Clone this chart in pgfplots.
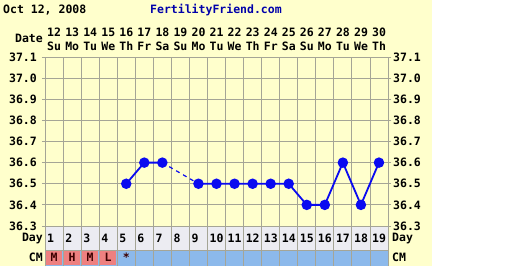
\documentclass[border=0pt]{standalone}
\usepackage{fontspec}
\setmainfont{DejaVu Sans Mono}
\usepackage{pgfplots}
\pgfplotsset{compat=1.18}
\definecolor{bgY}{RGB}{255,255,204}
\definecolor{gridC}{RGB}{165,165,150}
\definecolor{dayRow}{RGB}{236,236,242}
\definecolor{cmBlue}{RGB}{140,185,235}
\definecolor{cmRed}{RGB}{238,128,128}
\definecolor{ptBlue}{RGB}{10,10,240}
\definecolor{ffBlue}{RGB}{0,0,170}
\definecolor{cmTxt}{RGB}{60,0,0}
\newcommand{\pf}{\fontsize{11.5}{13}\selectfont\bfseries}
\begin{document}
\begin{tikzpicture}[x=1pt,y=1pt,font=\pf]
\useasboundingbox (0,0) rectangle (512,266);
\fill[white] (0,0) rectangle (512,266);
\fill[bgY] (0,0) rectangle (432,266);
% bottom rows
\fill[dayRow] (45,16) rectangle (388,39);
\fill[cmBlue] (45,0) rectangle (388,16);
\foreach \i in {1,...,4}{
  \fill[cmRed] ({45+(\i-1)*18.0526+1},1) rectangle ({45+\i*18.0526-1},15);
}
\foreach \i in {0,...,19}{
  \draw[gridC, line width=0.8pt] ({45+\i*18.0526},0) -- ({45+\i*18.0526},39);
}
\draw[gridC, line width=0.8pt] (45,16) -- (388,16);
\foreach \i in {1,...,19}{
  \node[anchor=west, inner sep=0pt] at ({45+(\i-1)*18.0526+2},28) {\i};
}
\foreach \c [count=\i] in {M,H,M,L,*}{
  \node[anchor=center, inner sep=0pt, text=cmTxt] at ({45+(\i-0.5)*18.0526},8.5) {\c};
}
\node[anchor=east, inner sep=0pt] at (43,28) {Day};
\node[anchor=west, inner sep=0pt] at (392,28) {Day};
\node[anchor=east, inner sep=0pt] at (43,9) {CM};
\node[anchor=west, inner sep=0pt] at (392,9) {CM};
% header
\node[anchor=west, inner sep=0pt] at (3,256) {Oct 12, 2008};
\node[anchor=west, inner sep=0pt, text=ffBlue] at (150,256) {FertilityFriend.com};
\node[anchor=east, inner sep=0pt] at (43,228) {Date};
\foreach \d/\w [count=\i] in {12/Su,13/Mo,14/Tu,15/We,16/Th,17/Fr,18/Sa,19/Su,20/Mo,21/Tu,22/We,23/Th,24/Fr,25/Sa,26/Su,27/Mo,28/Tu,29/We,30/Th}{
  \node[anchor=west, inner sep=0pt] at ({45+(\i-1)*18.0526+2},234) {\d};
  \node[anchor=west, inner sep=0pt] at ({45+(\i-1)*18.0526+2},220) {\w};
}
\begin{axis}[
  at={(45pt,40pt)}, anchor=south west,
  width=343pt, height=169pt, scale only axis,
  xmin=0.5, xmax=19.5, ymin=36.3, ymax=37.1,
  xtick={1,...,19}, xticklabels={},
  major x tick style={draw=none},
  minor xtick={0.5,1.5,2.5,3.5,4.5,5.5,6.5,7.5,8.5,9.5,10.5,11.5,12.5,13.5,14.5,15.5,16.5,17.5,18.5,19.5},
  minor x tick style={draw=none},
  xminorgrids=true,
  ytick={36.3,36.4,36.5,36.6,36.7,36.8,36.9,37.0,37.1},
  ymajorgrids=true,
  grid style={gridC, line width=0.8pt},
  axis line style={gridC, line width=0.8pt},
  tick align=outside, major tick length=3pt,
  y tick style={gridC, line width=0.8pt},
  yticklabel style={font=\pf, inner sep=0pt, xshift=-5pt},
  /pgf/number format/.cd, fixed, fixed zerofill, precision=1, assume math mode=true
]
\addplot[ptBlue, line width=1.2pt, dash pattern=on 4pt off 4pt, forget plot] coordinates {(7,36.6) (9,36.5)};
\addplot[ptBlue, line width=1.8pt, mark=*, mark size=4.3pt, mark options={solid}] coordinates {(5,36.5) (6,36.6) (7,36.6)};
\addplot[ptBlue, line width=1.8pt, mark=*, mark size=4.3pt, mark options={solid}] coordinates {(9,36.5) (10,36.5) (11,36.5) (12,36.5) (13,36.5) (14,36.5) (15,36.4) (16,36.4) (17,36.6) (18,36.4) (19,36.6)};
\end{axis}
\begin{axis}[
  at={(45pt,40pt)}, anchor=south west,
  width=343pt, height=169pt, scale only axis,
  xmin=0.5, xmax=19.5, ymin=36.3, ymax=37.1,
  axis x line=none, axis y line*=right,
  ytick={36.3,36.4,36.5,36.6,36.7,36.8,36.9,37.0,37.1},
  axis line style={gridC, line width=0.8pt},
  tick align=outside, major tick length=3pt,
  y tick style={gridC, line width=0.8pt},
  yticklabel style={font=\pf, inner sep=0pt, xshift=2pt},
  /pgf/number format/.cd, fixed, fixed zerofill, precision=1, assume math mode=true
]
\addplot[draw=none] coordinates {(1,36.3)};
\end{axis}
\end{tikzpicture}
\end{document}
